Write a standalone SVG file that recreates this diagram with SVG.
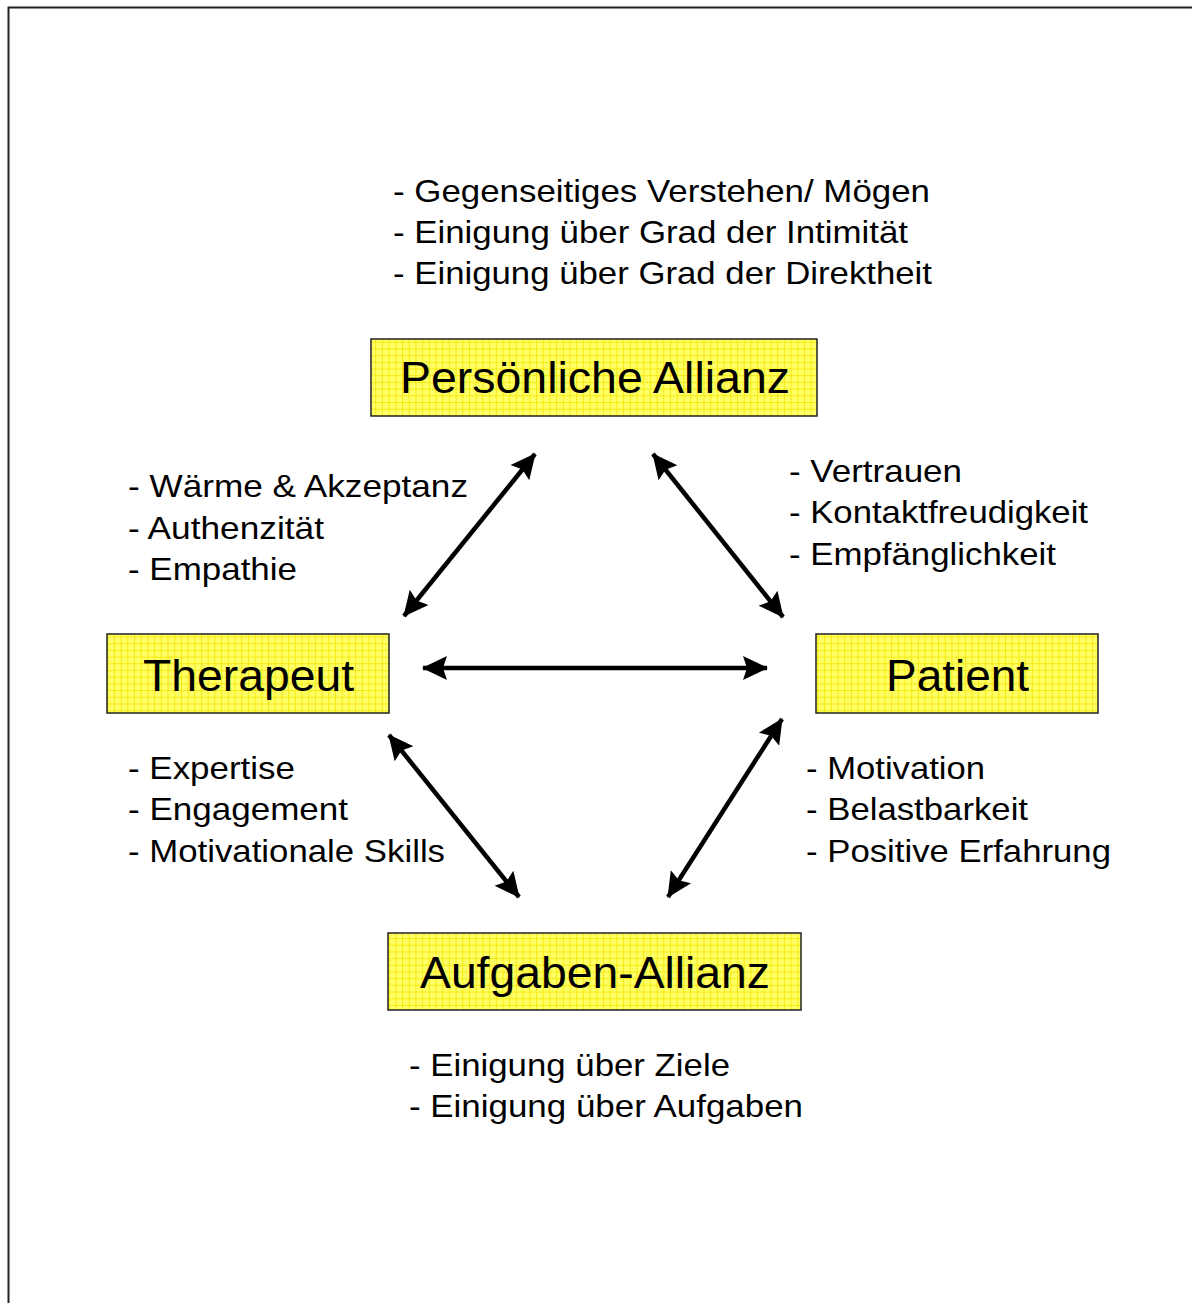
<svg xmlns="http://www.w3.org/2000/svg" width="1192" height="1303" viewBox="0 0 1192 1303">
<defs>
<pattern id="grid" width="6.7" height="6.7" patternUnits="userSpaceOnUse">
<rect width="6.7" height="6.7" fill="#ffff66"/>
<path d="M0,0.5 H6.7 M0.5,0 V6.7" stroke="#f2e400" stroke-width="0.8"/>
</pattern>
<marker id="ah" markerWidth="26" markerHeight="28" refX="24" refY="14" orient="auto-start-reverse" markerUnits="userSpaceOnUse">
<path d="M0,2 L25,14 L0,26 L4,14 Z" fill="#000"/>
</marker>
<style>
.box{fill:url(#grid);stroke:#222;stroke-width:1.5}
.bt{font-family:"Liberation Sans",Arial,sans-serif;font-size:44px;fill:#000}
.lt{font-family:"Liberation Sans",Arial,sans-serif;font-size:32px;fill:#000}
.ar{stroke:#000;stroke-width:4.5;fill:none;marker-start:url(#ah);marker-end:url(#ah)}
</style>
</defs>
<rect width="1192" height="1303" fill="#fff"/>
<path d="M8.5,1303 V7.5 H1192" fill="none" stroke="#222" stroke-width="2"/>

<g id="persoenliche-allianz">
<rect class="box" x="371" y="339" width="446" height="77"/>
<text class="bt" x="400" y="393" textLength="390" lengthAdjust="spacingAndGlyphs">Persönliche Allianz</text>
</g>
<g id="therapeut">
<rect class="box" x="107" y="634" width="282" height="79"/>
<text class="bt" x="143" y="691" textLength="211" lengthAdjust="spacingAndGlyphs">Therapeut</text>
</g>
<g id="patient">
<rect class="box" x="816" y="634" width="282" height="79"/>
<text class="bt" x="886" y="691" textLength="143" lengthAdjust="spacingAndGlyphs">Patient</text>
</g>
<g id="aufgaben-allianz">
<rect class="box" x="388" y="933" width="413" height="77"/>
<text class="bt" x="420" y="988" textLength="350" lengthAdjust="spacingAndGlyphs">Aufgaben-Allianz</text>
</g>

<g id="text-top">
<text class="lt" x="393" y="202" textLength="537" lengthAdjust="spacingAndGlyphs">- Gegenseitiges Verstehen/ Mögen</text>
<text class="lt" x="393" y="243" textLength="515" lengthAdjust="spacingAndGlyphs">- Einigung über Grad der Intimität</text>
<text class="lt" x="393" y="284" textLength="539" lengthAdjust="spacingAndGlyphs">- Einigung über Grad der Direktheit</text>
</g>
<g id="text-left-top">
<text class="lt" x="128" y="497" textLength="340" lengthAdjust="spacingAndGlyphs">- Wärme &amp; Akzeptanz</text>
<text class="lt" x="128" y="539" textLength="196" lengthAdjust="spacingAndGlyphs">- Authenzität</text>
<text class="lt" x="128" y="580" textLength="169" lengthAdjust="spacingAndGlyphs">- Empathie</text>
</g>
<g id="text-right-top">
<text class="lt" x="789" y="482" textLength="173" lengthAdjust="spacingAndGlyphs">- Vertrauen</text>
<text class="lt" x="789" y="523" textLength="299" lengthAdjust="spacingAndGlyphs">- Kontaktfreudigkeit</text>
<text class="lt" x="789" y="565" textLength="267" lengthAdjust="spacingAndGlyphs">- Empfänglichkeit</text>
</g>
<g id="text-left-bottom">
<text class="lt" x="128" y="779" textLength="167" lengthAdjust="spacingAndGlyphs">- Expertise</text>
<text class="lt" x="128" y="820" textLength="220" lengthAdjust="spacingAndGlyphs">- Engagement</text>
<text class="lt" x="128" y="862" textLength="317" lengthAdjust="spacingAndGlyphs">- Motivationale Skills</text>
</g>
<g id="text-right-bottom">
<text class="lt" x="806" y="779" textLength="179" lengthAdjust="spacingAndGlyphs">- Motivation</text>
<text class="lt" x="806" y="820" textLength="222" lengthAdjust="spacingAndGlyphs">- Belastbarkeit</text>
<text class="lt" x="806" y="862" textLength="305" lengthAdjust="spacingAndGlyphs">- Positive Erfahrung</text>
</g>
<g id="text-bottom">
<text class="lt" x="409" y="1076" textLength="321" lengthAdjust="spacingAndGlyphs">- Einigung über Ziele</text>
<text class="lt" x="409" y="1117" textLength="394" lengthAdjust="spacingAndGlyphs">- Einigung über Aufgaben</text>
</g>

<g id="connectors">
<line class="ar" x1="404" y1="616" x2="535" y2="454"/>
<line class="ar" x1="653" y1="454" x2="783" y2="617"/>
<line class="ar" x1="423" y1="668" x2="767" y2="668"/>
<line class="ar" x1="389" y1="735" x2="519" y2="897"/>
<line class="ar" x1="782" y1="719" x2="668" y2="897"/>
</g>
</svg>
